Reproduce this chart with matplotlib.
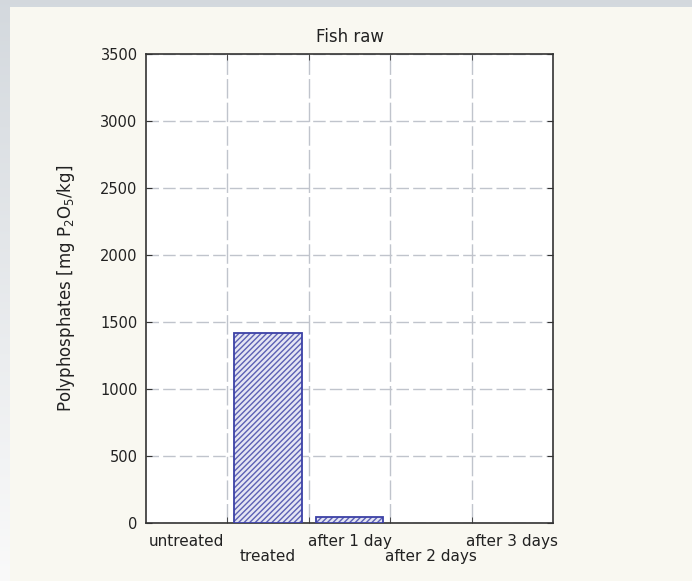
import numpy as np
import matplotlib
matplotlib.use("Agg")
import matplotlib.pyplot as plt
from matplotlib.patches import Rectangle

categories = ["untreated", "treated", "after 1 day", "after 2 days", "after 3 days"]
values = [0, 1420, 45, 0, 0]
yticks = [0, 500, 1000, 1500, 2000, 2500, 3000, 3500]
title = "Fish raw"
ylabel = "Polyphosphates [mg P$_2$O$_5$/kg]"

plt.rcParams['font.family'] = ['DejaVu Sans']
plt.rcParams['hatch.linewidth'] = 1.0

fig = plt.figure(figsize=(6.92, 5.81), dpi=100)

# background gradient
bg = fig.add_axes([0, 0, 1, 1], zorder=-10)
grad = np.linspace(0, 1, 256).reshape(-1, 1)
top = np.array([0.83, 0.85, 0.87])
bot = np.array([0.98, 0.98, 0.98])
img = top[None, None, :] * (1 - grad[:, :, None]) + bot[None, None, :] * grad[:, :, None]
bg.imshow(img, aspect='auto', extent=[0, 1, 0, 1], origin='upper')
bg.add_patch(Rectangle((10 / 692, 0), 1, 1 - 7 / 581, facecolor='#f9f8f1', edgecolor='none',
                       transform=bg.transAxes))
bg.set_xlim(0, 1); bg.set_ylim(0, 1)
bg.axis('off')

ax = fig.add_axes([146 / 692, 1 - 523 / 581, 407 / 692, 469 / 581])
ax.set_facecolor('white')
x = np.arange(len(categories))
lws = [1.3 if v > 0 else 0 for v in values]
ax.bar(x, values, width=0.83, facecolor='#e4e5f3', edgecolor='#5b60b4', hatch='//////', linewidth=0, zorder=3)
ax.bar(x, values, width=0.83, fill=False, edgecolor='#3c41a6', linewidth=lws, zorder=4)

ax.set_xlim(-0.5, len(categories) - 0.5)
ax.set_ylim(0, 3500)
ax.set_yticks(yticks)
ax.set_yticklabels([str(v) for v in yticks], fontsize=10.5, color='#222222')
ax.set_xticks(x)
ax.set_xticklabels([])
tr = ax.get_xaxis_transform()
for i, c in enumerate(categories):
    off = -11 if i % 2 == 0 else -26
    ax.annotate(c, (x[i], 0), xycoords=tr, xytext=(0, off), textcoords='offset pixels',
                ha='center', va='top', fontsize=11, color='#222222', annotation_clip=False)
ax.set_xticks(np.arange(0.5, len(categories) - 0.5, 1), minor=True)
ax.tick_params(axis='x', which='major', length=0)
ax.tick_params(axis='x', which='minor', direction='in', length=4, top=True, bottom=True, color='#333333')
ax.tick_params(axis='y', direction='in', length=4, left=True, right=True, color='#333333', pad=6)
ax.grid(True, axis='y', which='major', color='#c0c4cc', linestyle=(0, (9, 3)), linewidth=1.0, zorder=1)
ax.grid(True, axis='x', which='minor', color='#c0c4cc', linestyle=(0, (14, 3)), linewidth=1.0, zorder=1)
ax.set_axisbelow(True)
for s in ax.spines.values():
    s.set_color('#333333')
    s.set_linewidth(1.2)

ax.set_title(title, fontsize=12, color='#222222', pad=9)
ax.set_ylabel(ylabel, fontsize=12, color='#222222', labelpad=17)

fig.savefig("out.png", dpi=100)
